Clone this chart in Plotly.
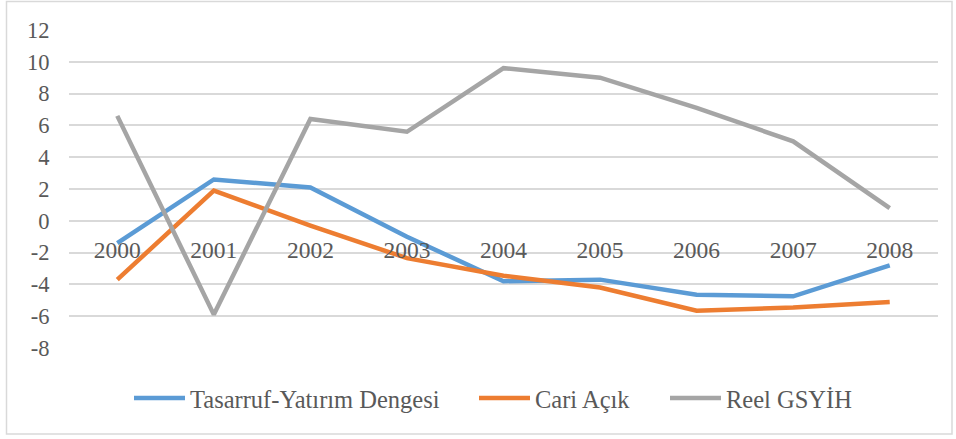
import plotly.graph_objects as go

years = ["2000", "2001", "2002", "2003", "2004", "2005", "2006", "2007", "2008"]
tasarruf = [-1.4, 2.6, 2.1, -1.0, -3.8, -3.7, -4.65, -4.75, -2.8]
cari = [-3.7, 1.9, -0.3, -2.35, -3.45, -4.2, -5.65, -5.45, -5.1]
reel = [6.6, -5.9, 6.4, 5.6, 9.6, 9.0, 7.1, 5.0, 0.8]
series_names = ["Tasarruf-Yatırım Dengesi", "Cari Açık", "Reel GSYİH"]
series_colors = ["#5B9BD5", "#ED7D31", "#A5A5A5"]
yticks = [-8, -6, -4, -2, 0, 2, 4, 6, 8, 10, 12]
yticklabels = ["-8", "-6", "-4", "-2", "0", "2", "4", "6", "8", "10", "12"]

W, H = 956, 439
ML, MR, MT, MB = 69, 18, 30, 91
pw, ph = W - ML - MR, H - MT - MB
FONT = "Liberation Serif"
TXT = "#595959"

# legend layout (pixel positions of each entry's swatch start)
leg_x = [132, 477, 668]
leg_y = 398
swatch = 55

def px_x(p):
    return (p - ML) / pw

def px_y(p):
    return (H - MB - p) / ph

fig = go.Figure()
for name, vals, col in zip(series_names, [tasarruf, cari, reel], series_colors):
    fig.add_trace(go.Scatter(x=years, y=vals, name=name, mode="lines",
                             line=dict(color=col, width=4.5), showlegend=False))

shapes = [dict(type="rect", xref="paper", yref="paper",
               x0=px_x(6.5), x1=px_x(952), y0=px_y(434), y1=px_y(1.5),
               line=dict(color="#D9D9D9", width=1.5), fillcolor="rgba(0,0,0,0)", layer="below")]
annotations = []
for name, col, lx in zip(series_names, series_colors, leg_x):
    shapes.append(dict(type="line", xref="paper", yref="paper",
                       x0=px_x(lx + 2), x1=px_x(lx + swatch - 2), y0=px_y(leg_y), y1=px_y(leg_y),
                       line=dict(color=col, width=4.5)))
    annotations.append(dict(xref="paper", yref="paper", x=px_x(lx + swatch + 1), y=px_y(leg_y + 1),
                            xanchor="left", yanchor="middle", text=name, showarrow=False,
                            font=dict(family=FONT, size=24.5, color=TXT)))

fig.update_layout(
    template="none",
    width=W, height=H,
    margin=dict(l=ML, r=MR, t=MT, b=MB),
    paper_bgcolor="white", plot_bgcolor="white",
    font=dict(family=FONT, color=TXT, size=22),
    showlegend=False,
    xaxis=dict(type="category", anchor="free", position=8 / 20, showline=False,
               showgrid=False, zeroline=False, ticks="outside", ticklen=8,
               tickcolor="rgba(0,0,0,0)", tickfont=dict(family=FONT, size=23.5, color=TXT),
               range=[-0.5, 8.5]),
    yaxis=dict(range=[-8, 12], tickvals=yticks, ticktext=yticklabels, showgrid=True,
               gridcolor="#D9D9D9", gridwidth=1.5, zeroline=False, showline=False,
               ticks="outside", ticklen=14, tickcolor="rgba(0,0,0,0)",
               tickfont=dict(family=FONT, size=22.5, color=TXT)),
    shapes=shapes,
    annotations=annotations,
)

fig.write_html("out.html", config={"displayModeBar": False},
               post_script="document.body.style.margin='0';")
